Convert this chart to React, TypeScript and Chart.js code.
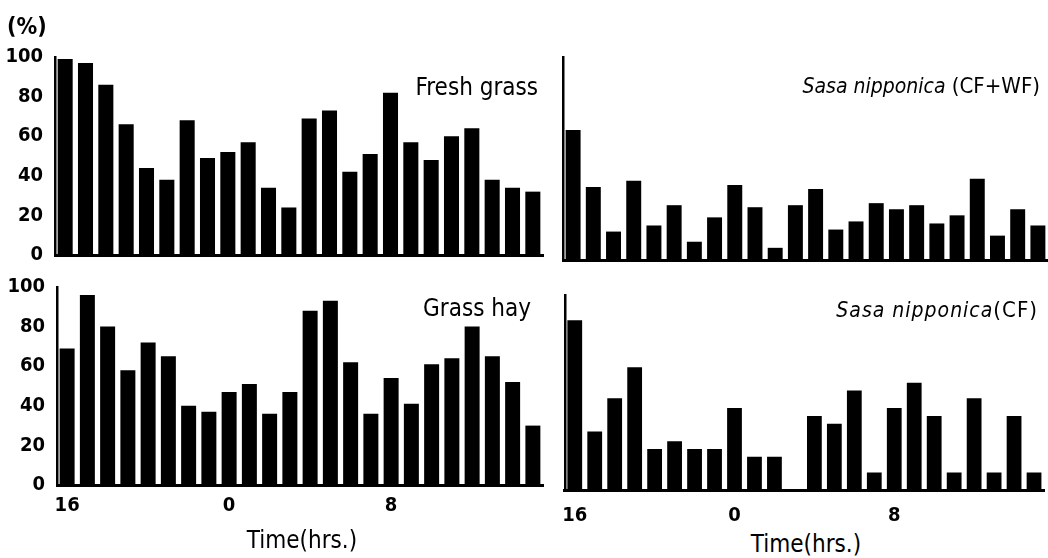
import React, { useEffect, useRef } from "react";
import { Chart, registerables } from "chart.js";

Chart.register(...registerables);

// ---- data ----
const hours = ["16", "17", "18", "19", "20", "21", "22", "23", "0", "1", "2", "3", "4", "5", "6", "7", "8", "9", "10", "11", "12", "13", "14", "15"];
const xTickLabels = ["16", "0", "8"];
const yTickValues = [0, 20, 40, 60, 80, 100];

const freshGrass = [99, 97, 86, 66, 44, 38, 68, 49, 52, 57, 34, 24, 69, 73, 42, 51, 82, 57, 48, 60, 64, 38, 34, 32];
const sasaCFWF = [64, 36, 14, 39, 17, 27, 9, 21, 37, 26, 6, 27, 35, 15, 19, 28, 25, 27, 18, 22, 40, 12, 25, 17];
const grassHay = [69, 96, 80, 58, 72, 65, 40, 37, 47, 51, 36, 47, 88, 93, 62, 36, 54, 41, 61, 64, 80, 65, 52, 30];
const sasaCF = [87, 30, 47, 63, 21, 25, 21, 21, 42, 17, 17, 0, 38, 34, 51, 9, 42, 55, 38, 9, 47, 9, 38, 9];

const NUM_FONT = "'DejaVu Sans Condensed', 'DejaVu Sans', sans-serif";

type PanelProps = {
  values: number[];
  left: number;
  top: number;
  width: number;
  height: number;
  padTop: number;
  padRight: number;
  yWidth: number;
  xHeight: number;
  showY: boolean;
  showX: boolean;
  xPad: number;
};

function Panel(p: PanelProps) {
  const ref = useRef<HTMLCanvasElement | null>(null);
  useEffect(() => {
    if (!ref.current) return;
    const chart = new Chart(ref.current, {
      type: "bar",
      data: {
        labels: hours,
        datasets: [
          {
            data: p.values,
            backgroundColor: "#000",
            borderWidth: 0,
            barPercentage: 0.74,
            categoryPercentage: 1,
          },
        ],
      },
      options: {
        animation: false,
        responsive: false,
        events: [],
        layout: { padding: { top: p.padTop, right: p.padRight, left: 0, bottom: 0 } },
        plugins: { legend: { display: false }, tooltip: { enabled: false }, title: { display: false } },
        scales: {
          x: {
            offset: true,
            grid: { display: false, drawTicks: false },
            border: { display: true, color: "#000", width: 3 },
            ticks: {
              display: p.showX,
              autoSkip: false,
              maxRotation: 0,
              padding: p.xPad,
              color: "#000",
              font: { family: NUM_FONT, size: 20, weight: "bold" },
              callback: (_v: any, i: number) => (xTickLabels.includes(hours[i]) ? hours[i] : ""),
            },
            afterFit: (s: any) => {
              s.height = p.xHeight;
            },
          },
          y: {
            min: 0,
            max: 100,
            grid: { display: false, drawTicks: false },
            border: { display: true, color: "#000", width: 2.5 },
            ticks: {
              display: p.showY,
              stepSize: 20,
              padding: 12,
              color: "#000",
              font: { family: NUM_FONT, size: 20, weight: "bold" },
              callback: (v: any) => (yTickValues.includes(Number(v)) ? String(v) : ""),
            },
            afterFit: (s: any) => {
              s.width = p.yWidth;
            },
          },
        },
      },
    });
    return () => chart.destroy();
  }, []);
  return (
    <canvas
      ref={ref}
      width={p.width}
      height={p.height}
      style={{ position: "absolute", left: p.left, top: p.top, width: p.width, height: p.height }}
    />
  );
}

function Label(props: { children: React.ReactNode; right?: number; left?: number; top: number; bold?: boolean; size?: number; center?: boolean; spacing?: number }) {
  const size = props.size ?? 24;
  const style: React.CSSProperties = {
    position: "absolute",
    top: props.top,
    fontFamily: NUM_FONT,
    fontSize: size,
    lineHeight: `${size}px`,
    fontWeight: props.bold ? "bold" : "normal",
    letterSpacing: props.spacing ?? 0,
    whiteSpace: "nowrap",
    color: "#000",
  };
  if (props.right !== undefined) style.right = props.right;
  if (props.left !== undefined) style.left = props.left;
  if (props.center) style.transform = "translateX(-50%)";
  return <div style={style}>{props.children}</div>;
}

export default function App() {
  return (
    <div style={{ position: "absolute", left: 0, top: 0, width: 1048, height: 558, background: "#fff", overflow: "hidden" }}>
      <Panel values={freshGrass} left={0} top={32} width={548} height={248} padTop={25} padRight={5} yWidth={55} xHeight={25} showY={true} showX={false} xPad={0} />
      <Panel values={sasaCFWF} left={548} top={40} width={500} height={225} padTop={17} padRight={0} yWidth={15} xHeight={5} showY={false} showX={false} xPad={0} />
      <Panel values={grassHay} left={0} top={262} width={548} height={268} padTop={25} padRight={5} yWidth={57} xHeight={45} showY={true} showX={true} xPad={9} />
      <Panel values={sasaCF} left={548} top={270} width={500} height={260} padTop={25} padRight={0} yWidth={15} xHeight={40} showY={false} showX={true} xPad={14} />

      <Label left={7} top={15} bold size={23}>(%)</Label>
      <Label right={1048 - 538} top={75}>Fresh grass</Label>
      <Label right={1048 - 1040} top={75} size={22} spacing={0}>
        <i style={{ fontSize: 21 }}>Sasa nipponica</i> (CF+WF)
      </Label>
      <Label right={1048 - 531} top={296}>Grass hay</Label>
      <Label right={1048 - 1038} top={299} size={22} spacing={1}>
        <i style={{ fontSize: 21 }}>Sasa nipponica</i>(CF)
      </Label>
      <Label left={302} top={528} center>Time(hrs.)</Label>
      <Label left={806} top={532} center>Time(hrs.)</Label>
    </div>
  );
}
